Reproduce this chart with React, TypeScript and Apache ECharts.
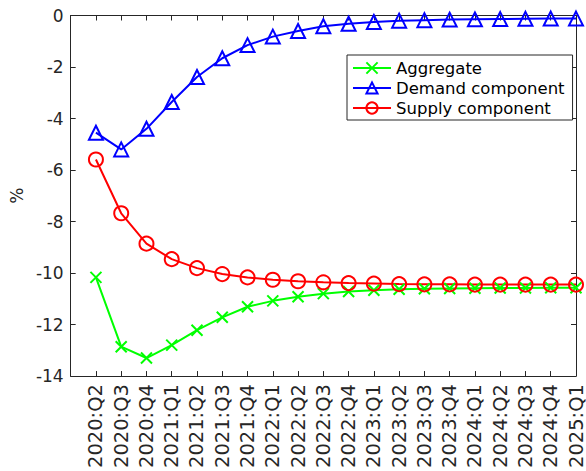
import React, { useEffect, useRef } from "react";
import * as echarts from "echarts";

const categories = [
  "2020:Q2", "2020:Q3", "2020:Q4", "2021:Q1", "2021:Q2", "2021:Q3", "2021:Q4",
  "2022:Q1", "2022:Q2", "2022:Q3", "2022:Q4", "2023:Q1", "2023:Q2", "2023:Q3",
  "2023:Q4", "2024:Q1", "2024:Q2", "2024:Q3", "2024:Q4", "2025:Q1",
];

const aggregate = [
  -10.17, -12.86, -13.3, -12.8, -12.22, -11.72, -11.31, -11.08, -10.92, -10.8,
  -10.72, -10.67, -10.63, -10.61, -10.6, -10.59, -10.58, -10.58, -10.57, -10.57,
];
const demand = [
  -4.55, -5.2, -4.4, -3.36, -2.39, -1.66, -1.15, -0.82, -0.6, -0.42,
  -0.32, -0.25, -0.2, -0.18, -0.16, -0.15, -0.14, -0.13, -0.12, -0.12,
];
const supply = [
  -5.59, -7.68, -8.86, -9.46, -9.81, -10.04, -10.17, -10.26, -10.32, -10.36,
  -10.39, -10.41, -10.43, -10.44, -10.44, -10.45, -10.45, -10.45, -10.45, -10.45,
];

const yTicks = { min: -14, max: 0, interval: 2 };
const seriesNames = ["Aggregate", "Demand component", "Supply component"];

const FONT = "DejaVu Sans";
const AX = "#262626";

function pairs(vals: number[]) {
  return vals.map((v, i) => [i, v]);
}

export default function App() {
  const ref = useRef<HTMLDivElement>(null);
  useEffect(() => {
    if (!ref.current) return;
    const chart = echarts.init(ref.current, undefined, { renderer: "svg" });
    const xBase = {
      type: "value" as const,
      min: -1,
      max: categories.length - 1,
      interval: 1,
      splitLine: { show: false },
      axisLine: { show: true, onZero: false, lineStyle: { color: AX, width: 1 } },
      axisTick: { show: true, inside: true, length: 5, lineStyle: { color: AX, width: 1 } },
    };
    const yBase = {
      type: "value" as const,
      min: yTicks.min,
      max: yTicks.max,
      interval: yTicks.interval,
      splitLine: { show: false },
      axisLine: { show: true, onZero: false, lineStyle: { color: AX, width: 1 } },
      axisTick: { show: true, inside: true, length: 5, lineStyle: { color: AX, width: 1 } },
    };
    const mk = (name: string, vals: number[], color: string, symbol: string, size: number) => ({
      name,
      type: "line",
      xAxisIndex: 0,
      yAxisIndex: 0,
      data: pairs(vals),
      symbol,
      symbolSize: size,
      showAllSymbol: true,
      lineStyle: { color, width: 2 },
      itemStyle: { color: "rgba(0,0,0,0)", borderColor: color, borderWidth: 2 },
      emphasis: { disabled: true },
    });
    chart.setOption({
      animation: false,
      textStyle: { fontFamily: FONT },
      grid: { left: 69, right: 9, top: 15.5, bottom: 87.5, containLabel: false },
      legend: {
        orient: "vertical",
        left: 347,
        top: 55,
        data: seriesNames,
        itemWidth: 38,
        itemHeight: 14,
        itemGap: 0,
        padding: [3, 8, 2, 5],
        borderColor: AX,
        borderWidth: 1,
        backgroundColor: "#fff",
        textStyle: { fontFamily: FONT, fontSize: 16.5, color: "#000", lineHeight: 20 },
      },
      xAxis: [
        {
          ...xBase,
          position: "bottom",
          axisLabel: {
            show: true,
            rotate: 90,
            margin: 8,
            fontFamily: FONT,
            fontSize: 19.5,
            lineHeight: 15,
            color: AX,
            showMinLabel: true,
            showMaxLabel: true,
            formatter: (v: number) => (v >= 0 && v < categories.length ? categories[v] : ""),
          },
        },
        { ...xBase, position: "top", axisLabel: { show: false } },
      ],
      yAxis: [
        {
          ...yBase,
          position: "left",
          name: "%",
          nameLocation: "middle",
          nameRotate: 90,
          nameGap: 45,
          nameTextStyle: { fontFamily: FONT, fontSize: 17, color: AX },
          axisLabel: { show: true, margin: 7, fontFamily: FONT, fontSize: 17, color: AX },
        },
        { ...yBase, position: "right", axisLabel: { show: false } },
      ],
      series: [
        mk(seriesNames[0], aggregate, "#00ff00", "path://M0,0L10,10M10,0L0,10", 11),
        mk(seriesNames[1], demand, "#0000ff", "triangle", 14),
        mk(seriesNames[2], supply, "#ff0000", "circle", 14),
      ],
    });
    return () => chart.dispose();
  }, []);
  return (
    <div
      ref={ref}
      style={{ position: "absolute", left: 0, top: 0, width: 586, height: 471, background: "#fff" }}
    />
  );
}
